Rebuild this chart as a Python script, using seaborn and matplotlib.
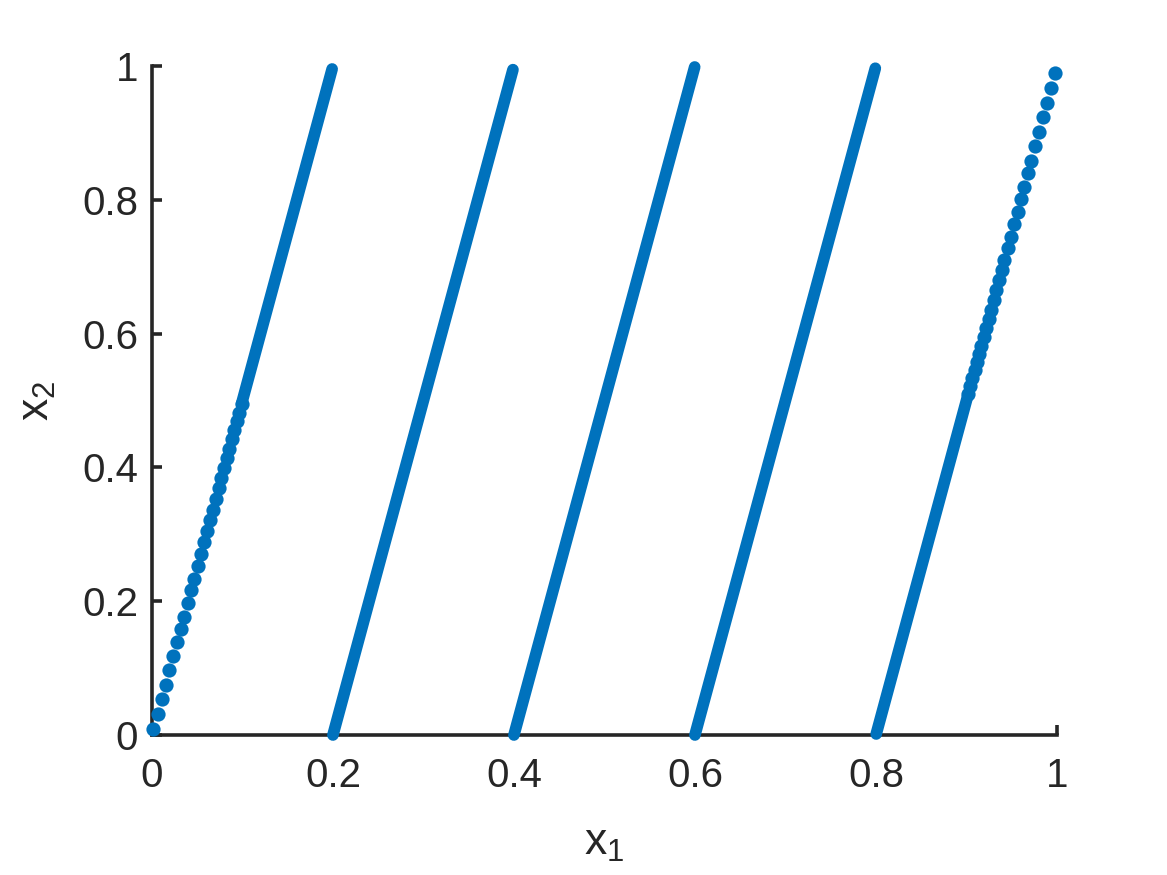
import matplotlib
matplotlib.use("Agg")
import matplotlib.pyplot as plt
import seaborn as sns

# Sparse dots: start of the first run and end of the last run
dots_x1 = [0.0017, 0.0062, 0.0107, 0.0150, 0.0193, 0.0236, 0.0277, 0.0316, 0.0354, 0.0394,
           0.0433, 0.0467, 0.0504, 0.0541, 0.0576, 0.0610, 0.0642, 0.0673, 0.0706, 0.0738,
           0.0768, 0.0798, 0.0828, 0.0856, 0.0884, 0.0912, 0.0938, 0.0964, 0.0990,
           0.9978, 0.9933, 0.9889, 0.9847, 0.9802, 0.9761, 0.9717, 0.9679, 0.9639, 0.9602,
           0.9565, 0.9527, 0.9490, 0.9455, 0.9420, 0.9390, 0.9360, 0.9330, 0.9300, 0.9272,
           0.9244, 0.9216, 0.9190, 0.9164, 0.9138, 0.9114, 0.9090, 0.9066, 0.9042, 0.9020]
dots_x2 = [0.0085, 0.0309, 0.0533, 0.0752, 0.0967, 0.1181, 0.1386, 0.1580, 0.1768, 0.1969,
           0.2163, 0.2337, 0.2522, 0.2706, 0.2880, 0.3049, 0.3209, 0.3367, 0.3528, 0.3688,
           0.384, 0.399, 0.414, 0.428, 0.442, 0.456, 0.469, 0.482, 0.495,
           0.9891, 0.9667, 0.9443, 0.9234, 0.9010, 0.8804, 0.8585, 0.8397, 0.8197, 0.8009,
           0.7823, 0.7635, 0.7449, 0.7276, 0.7100, 0.6951, 0.680, 0.665, 0.650, 0.636,
           0.622, 0.608, 0.595, 0.582, 0.569, 0.557, 0.545, 0.533, 0.521, 0.510]

# Dense runs where the dots merge into a solid band (start / end of each run)
dense_x1_start = [0.0990, 0.2000, 0.4000, 0.6000, 0.8003]
dense_x2_start = [0.495, 0.0, 0.0, 0.0, 0.0015]
dense_x1_end = [0.1991, 0.3989, 0.5997, 0.7993, 0.9020]
dense_x2_end = [0.9955, 0.9945, 0.9985, 0.9966, 0.510]

tick_vals = [0, 0.2, 0.4, 0.6, 0.8, 1]
tick_labels = ["0", "0.2", "0.4", "0.6", "0.8", "1"]

blue = "#0072BD"
axis_col = "#262626"

sns.set_style("ticks")
plt.rcParams["font.family"] = ["Liberation Sans", "DejaVu Sans"]

fig = plt.figure(figsize=(11.67, 8.75), dpi=100)
ax = fig.add_axes([0.1302, 0.16, 0.7755, 0.7646])

# dense parts as thick round-capped lines
for i in range(len(dense_x1_start)):
    sns.lineplot(x=[dense_x1_start[i], dense_x1_end[i]],
                 y=[dense_x2_start[i], dense_x2_end[i]],
                 ax=ax, color=blue, linewidth=8.4, estimator=None, sort=False,
                 solid_capstyle="round", clip_on=False, zorder=3)

# sparse dots
sns.scatterplot(x=dots_x1, y=dots_x2, ax=ax, color=blue, s=105, linewidth=0,
                clip_on=False, zorder=3)

ax.set_xlim(0, 1)
ax.set_ylim(0, 1)
ax.set_xticks(tick_vals)
ax.set_xticklabels(tick_labels)
ax.set_yticks(tick_vals)
ax.set_yticklabels(tick_labels)

for side in ["top", "right"]:
    ax.spines[side].set_visible(False)
for side in ["left", "bottom"]:
    ax.spines[side].set_linewidth(2.6)
    ax.spines[side].set_color(axis_col)

ax.tick_params(axis="both", direction="in", length=7, width=2.6, colors=axis_col,
               labelsize=29, labelcolor=axis_col)
ax.tick_params(axis="x", pad=16)
ax.tick_params(axis="y", pad=10)

ax.set_xlabel(r"$\mathregular{x_1}$", fontsize=32, color=axis_col, labelpad=20)
ax.set_ylabel(r"$\mathregular{x_2}$", fontsize=32, color=axis_col, labelpad=17)

fig.savefig("out.png", dpi=100)
